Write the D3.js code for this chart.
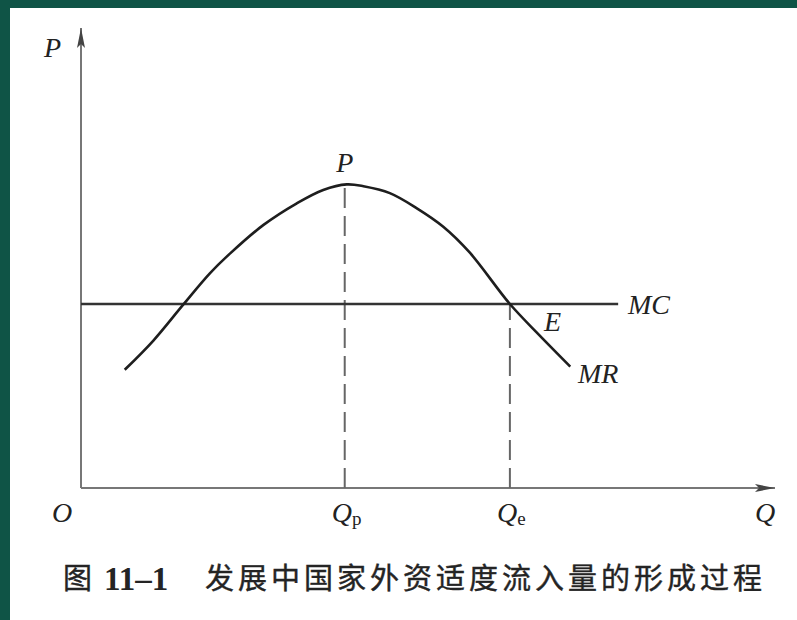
<!DOCTYPE html>
<html>
<head>
<meta charset="utf-8">
<script src="https://cdn.jsdelivr.net/npm/d3@7"></script>
<style>
  html, body { margin: 0; padding: 0; background: #fff; }
  svg { display: block; }
  .lbl { font-family: 'Liberation Serif', 'DejaVu Serif', serif; font-style: italic; fill: #222; }
</style>
</head>
<body>
<svg id="chart"></svg>
<script>
// MR curve (Q, P in axis units 0..100)
var mrQ = [6.3, 10.4, 14.7, 18.6, 21.5, 26.3, 31.1, 34.9, 38.3, 40.7, 44.5, 48.4, 52.2, 56.0, 61.8, 66.0, 70.5];
var mrP = [25.7, 32.0, 39.8, 46.7, 51.0, 57.2, 61.9, 64.8, 66.0, 65.6, 64.1, 60.8, 56.8, 51.2, 40.0, 33.3, 26.4];
var mcLevel = 40.0;
var mcRange = [0, 77.4];
var qMarks = [38.0, 61.8];
var qNames = ['p', 'e'];
var captionNum = '11–1';
var captionText = '发展中国家外资适度流入量的形成过程';

var width = 797;
var height = 620;
var svg = d3.select('#chart')
  .attr('width', width)
  .attr('height', height);

// frame
svg.append('rect').attr('x', 0).attr('y', 0).attr('width', width).attr('height', 8).attr('fill', '#0f5446');
svg.append('rect').attr('x', 0).attr('y', 0).attr('width', 10).attr('height', height).attr('fill', '#0f5446');

var xScale = d3.scaleLinear().domain([0, 100]).range([81, 775]);
var yScale = d3.scaleLinear().domain([0, 100]).range([488, 28]);

// arrowheads
var defs = svg.append('defs');
defs.append('marker')
  .attr('id', 'arrow')
  .attr('viewBox', '0 0 20 8')
  .attr('refX', 20)
  .attr('refY', 4)
  .attr('markerWidth', 20)
  .attr('markerHeight', 8)
  .attr('markerUnits', 'userSpaceOnUse')
  .attr('orient', 'auto')
  .append('path')
  .attr('d', 'M0,0 L20,4 L0,8 L4,4 Z')
  .attr('fill', '#444');

// axes
svg.append('line')
  .attr('x1', xScale(0)).attr('y1', yScale(0))
  .attr('x2', xScale(0)).attr('y2', yScale(100))
  .attr('stroke', '#777').attr('stroke-width', 2)
  .attr('marker-end', 'url(#arrow)');

svg.append('line')
  .attr('x1', xScale(0)).attr('y1', yScale(0))
  .attr('x2', xScale(100)).attr('y2', yScale(0))
  .attr('stroke', '#777').attr('stroke-width', 2)
  .attr('marker-end', 'url(#arrow)');

var mrData = mrQ.map(function (q, i) {
  return { q: q, p: mrP[i] };
});
var curveFn = d3.line()
  .x(function (d) { return xScale(d.q); })
  .y(function (d) { return yScale(d.p); })
  .curve(d3.curveCatmullRom.alpha(0.5));

// dashed guides
var guideTop = [d3.max(mrP), mcLevel];
svg.selectAll('.guide')
  .data(qMarks)
  .enter()
  .append('line')
  .attr('class', 'guide')
  .attr('x1', function (d) { return xScale(d); })
  .attr('x2', function (d) { return xScale(d); })
  .attr('y1', yScale(0))
  .attr('y2', function (d, i) { return yScale(guideTop[i]); })
  .attr('stroke', '#666')
  .attr('stroke-width', 2)
  .attr('stroke-dasharray', '20,8');

// MC line
svg.append('line')
  .attr('x1', xScale(mcRange[0])).attr('y1', yScale(mcLevel))
  .attr('x2', xScale(mcRange[1])).attr('y2', yScale(mcLevel))
  .attr('stroke', '#333').attr('stroke-width', 2.4);

// MR curve
svg.append('path')
  .datum(mrData)
  .attr('d', curveFn)
  .attr('fill', 'none')
  .attr('stroke', '#1e1e1e')
  .attr('stroke-width', 2.6);

// labels
var fs = 28;
svg.append('text').attr('class', 'lbl').attr('font-size', fs)
  .attr('x', 44).attr('y', 57).text('P');
svg.append('text').attr('class', 'lbl').attr('font-size', fs)
  .attr('x', 52).attr('y', 522).text('O');
svg.append('text').attr('class', 'lbl').attr('font-size', fs)
  .attr('x', 755).attr('y', 522).text('Q');
svg.append('text').attr('class', 'lbl').attr('font-size', fs)
  .attr('x', xScale(qMarks[0])).attr('y', 172)
  .attr('text-anchor', 'middle').text('P');
svg.append('text').attr('class', 'lbl').attr('font-size', fs)
  .attr('x', 628).attr('y', 314).text('MC');
svg.append('text').attr('class', 'lbl').attr('font-size', fs)
  .attr('x', 544).attr('y', 331).text('E');
svg.append('text').attr('class', 'lbl').attr('font-size', fs)
  .attr('x', 578).attr('y', 383).text('MR');

// Qp, Qe
var qLabels = svg.selectAll('.qlab')
  .data(qMarks)
  .enter()
  .append('text')
  .attr('class', 'lbl qlab')
  .attr('font-size', fs)
  .attr('x', function (d) { return xScale(d) - 13; })
  .attr('y', 522);
qLabels.append('tspan').text('Q');
qLabels.append('tspan')
  .attr('font-style', 'normal')
  .attr('font-size', 19)
  .attr('dy', 3)
  .text(function (d, i) { return qNames[i]; });

// caption
var capColor = '#242424';
svg.append('text')
  .attr('x', 63).attr('y', 589)
  .attr('font-family', "'Noto Sans CJK SC', sans-serif")
  .attr('font-size', 29)
  .attr('fill', capColor)
  .attr('stroke', capColor).attr('stroke-width', 0.4)
  .text('图');
svg.append('text')
  .attr('x', 104).attr('y', 590)
  .attr('font-family', "'Liberation Serif', serif")
  .attr('font-weight', 'bold')
  .attr('font-size', 33)
  .attr('fill', capColor)
  .text(captionNum);
svg.append('text')
  .attr('x', 205).attr('y', 589)
  .attr('font-family', "'Noto Sans CJK SC', sans-serif")
  .attr('font-size', 29)
  .attr('fill', capColor)
  .attr('stroke', capColor).attr('stroke-width', 0.4)
  .attr('textLength', 557)
  .attr('lengthAdjust', 'spacing')
  .text(captionText);
</script>
</body>
</html>
